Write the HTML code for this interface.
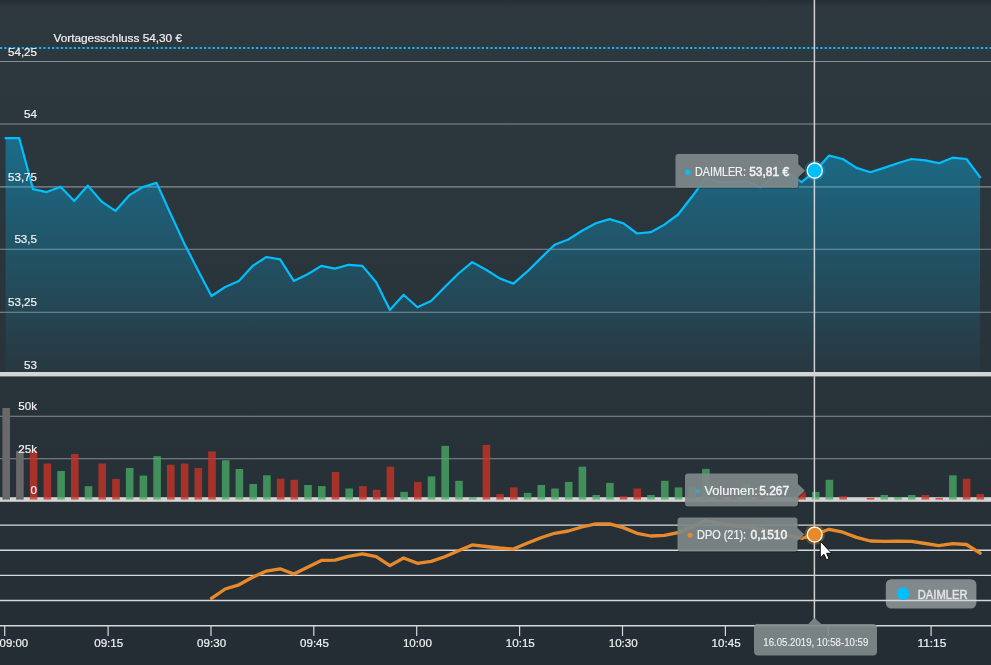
<!DOCTYPE html>
<html lang="de"><head><meta charset="utf-8"><title>DAIMLER Chart</title>
<style>
html,body{margin:0;padding:0;background:#252e35;overflow:hidden}
body{width:991px;height:665px}
svg{display:block;font-family:"Liberation Sans", "DejaVu Sans", sans-serif}
text{fill:#f2f2f2;stroke:#f2f2f2;stroke-width:0.2px}
.sb{font-weight:normal;stroke:#f2f2f2;stroke-width:0.5px}
</style></head><body>
<svg width="991" height="665" viewBox="0 0 991 665">
<defs>
<linearGradient id="bg" x1="0" y1="0" x2="0" y2="1">
<stop offset="0" stop-color="#2e393f"/><stop offset="0.55" stop-color="#29333a"/><stop offset="1" stop-color="#242d34"/>
</linearGradient>
<linearGradient id="top" x1="0" y1="0" x2="0" y2="1">
<stop offset="0" stop-color="#1c2226" stop-opacity="0.5"/><stop offset="1" stop-color="#1c2226" stop-opacity="0"/>
</linearGradient>
<linearGradient id="area" gradientUnits="userSpaceOnUse" x1="0" y1="140" x2="0" y2="374">
<stop offset="0" stop-color="#00bfff" stop-opacity="0.39"/><stop offset="1" stop-color="#00bfff" stop-opacity="0.03"/>
</linearGradient>
</defs>
<rect width="991" height="665" fill="url(#bg)"/>
<rect width="991" height="7" fill="url(#top)"/>

<g stroke="#868d93" stroke-width="1.15">
<line x1="0" x2="991" y1="61.5" y2="61.5"/>
<line x1="0" x2="991" y1="124.0" y2="124.0"/>
<line x1="0" x2="991" y1="186.9" y2="186.9"/>
<line x1="0" x2="991" y1="249.2" y2="249.2"/>
<line x1="0" x2="991" y1="312.2" y2="312.2"/>
<line x1="0" x2="991" y1="416.2" y2="416.2"/>
<line x1="0" x2="991" y1="458.7" y2="458.7"/>
</g>
<path d="M5.6,374 L5.6,138.2 L19.3,138.2 L33.0,189.1 L46.8,192.1 L60.5,186.7 L74.2,201.1 L87.9,185.6 L101.7,201.7 L115.4,210.9 L129.1,195.4 L142.8,187.0 L156.6,182.9 L170.3,213.2 L184.0,242.9 L197.8,269.9 L211.5,296.0 L225.2,287.0 L238.9,281.0 L252.6,265.9 L266.4,257.0 L280.1,259.3 L293.8,280.9 L307.6,274.3 L321.3,265.9 L335.0,268.6 L348.7,264.8 L362.4,265.9 L376.2,282.2 L389.9,310.0 L403.6,294.8 L417.4,307.3 L431.1,301.0 L444.8,287.1 L458.5,273.5 L472.2,262.1 L486.0,269.7 L499.7,278.4 L513.4,283.6 L527.1,271.7 L540.9,258.1 L554.6,244.7 L568.3,239.5 L582.0,230.8 L595.8,223.2 L609.5,219.1 L623.2,223.2 L637.0,233.5 L650.7,232.2 L664.4,224.6 L678.1,214.5 L691.9,196.8 L705.6,178.2 L719.3,181.8 L733.0,182.3 L746.8,181.0 L760.5,187.5 L774.2,175.3 L787.9,173.2 L801.6,182.2 L815.4,170.8 L829.1,155.6 L842.8,159.0 L856.5,167.9 L870.3,172.2 L884.0,167.9 L897.7,163.2 L911.5,159.0 L925.2,160.3 L938.9,163.2 L952.6,157.7 L966.4,159.0 L980.1,177.2 L980.1,374 Z" fill="url(#area)"/>
<polyline points="5.6,138.2 19.3,138.2 33.0,189.1 46.8,192.1 60.5,186.7 74.2,201.1 87.9,185.6 101.7,201.7 115.4,210.9 129.1,195.4 142.8,187.0 156.6,182.9 170.3,213.2 184.0,242.9 197.8,269.9 211.5,296.0 225.2,287.0 238.9,281.0 252.6,265.9 266.4,257.0 280.1,259.3 293.8,280.9 307.6,274.3 321.3,265.9 335.0,268.6 348.7,264.8 362.4,265.9 376.2,282.2 389.9,310.0 403.6,294.8 417.4,307.3 431.1,301.0 444.8,287.1 458.5,273.5 472.2,262.1 486.0,269.7 499.7,278.4 513.4,283.6 527.1,271.7 540.9,258.1 554.6,244.7 568.3,239.5 582.0,230.8 595.8,223.2 609.5,219.1 623.2,223.2 637.0,233.5 650.7,232.2 664.4,224.6 678.1,214.5 691.9,196.8 705.6,178.2 719.3,181.8 733.0,182.3 746.8,181.0 760.5,187.5 774.2,175.3 787.9,173.2 801.6,182.2 815.4,170.8 829.1,155.6 842.8,159.0 856.5,167.9 870.3,172.2 884.0,167.9 897.7,163.2 911.5,159.0 925.2,160.3 938.9,163.2 952.6,157.7 966.4,159.0 980.1,177.2" fill="none" stroke="#00bfff" stroke-width="2.2" stroke-linejoin="round" stroke-linecap="round"/>
<line x1="0" x2="991" y1="48" y2="48" stroke="#00bfff" stroke-width="2.2" stroke-dasharray="2.17 2.17"/>
<rect x="0" y="372" width="991" height="4.4" fill="#d4d4d4"/>
<rect x="0" y="497.2" width="991" height="4.6" fill="#d4d4d4"/>
<g>
<rect x="2.4" y="408.0" width="7.6" height="91.6" fill="#696969"/>
<rect x="16.1" y="450.9" width="7.6" height="48.7" fill="#696969"/>
<rect x="29.8" y="450.9" width="7.6" height="48.7" fill="#cc3325" fill-opacity="0.78"/>
<rect x="43.6" y="463.5" width="7.6" height="36.1" fill="#cc3325" fill-opacity="0.78"/>
<rect x="57.3" y="471.0" width="7.6" height="28.6" fill="#49ab65" fill-opacity="0.78"/>
<rect x="71.0" y="453.9" width="7.6" height="45.7" fill="#cc3325" fill-opacity="0.78"/>
<rect x="84.7" y="486.2" width="7.6" height="13.4" fill="#49ab65" fill-opacity="0.78"/>
<rect x="98.4" y="463.5" width="7.6" height="36.1" fill="#cc3325" fill-opacity="0.78"/>
<rect x="112.2" y="478.9" width="7.6" height="20.7" fill="#cc3325" fill-opacity="0.78"/>
<rect x="125.9" y="468.0" width="7.6" height="31.6" fill="#49ab65" fill-opacity="0.78"/>
<rect x="139.6" y="475.6" width="7.6" height="24.0" fill="#49ab65" fill-opacity="0.78"/>
<rect x="153.3" y="456.2" width="7.6" height="43.4" fill="#49ab65" fill-opacity="0.78"/>
<rect x="167.0" y="464.7" width="7.6" height="34.9" fill="#cc3325" fill-opacity="0.78"/>
<rect x="180.8" y="463.5" width="7.6" height="36.1" fill="#cc3325" fill-opacity="0.78"/>
<rect x="194.5" y="468.0" width="7.6" height="31.6" fill="#cc3325" fill-opacity="0.78"/>
<rect x="208.2" y="451.4" width="7.6" height="48.2" fill="#cc3325" fill-opacity="0.78"/>
<rect x="221.9" y="460.2" width="7.6" height="39.4" fill="#49ab65" fill-opacity="0.78"/>
<rect x="235.6" y="469.0" width="7.6" height="30.6" fill="#49ab65" fill-opacity="0.78"/>
<rect x="249.4" y="484.0" width="7.6" height="15.6" fill="#49ab65" fill-opacity="0.78"/>
<rect x="263.1" y="475.3" width="7.6" height="24.3" fill="#49ab65" fill-opacity="0.78"/>
<rect x="276.8" y="478.7" width="7.6" height="20.9" fill="#cc3325" fill-opacity="0.78"/>
<rect x="290.5" y="479.8" width="7.6" height="19.8" fill="#cc3325" fill-opacity="0.78"/>
<rect x="304.2" y="485.0" width="7.6" height="14.6" fill="#49ab65" fill-opacity="0.78"/>
<rect x="318.0" y="486.1" width="7.6" height="13.5" fill="#49ab65" fill-opacity="0.78"/>
<rect x="331.7" y="471.9" width="7.6" height="27.7" fill="#cc3325" fill-opacity="0.78"/>
<rect x="345.4" y="488.5" width="7.6" height="11.1" fill="#49ab65" fill-opacity="0.78"/>
<rect x="359.1" y="486.1" width="7.6" height="13.5" fill="#cc3325" fill-opacity="0.78"/>
<rect x="372.8" y="489.8" width="7.6" height="9.8" fill="#cc3325" fill-opacity="0.78"/>
<rect x="386.6" y="466.7" width="7.6" height="32.9" fill="#cc3325" fill-opacity="0.78"/>
<rect x="400.3" y="491.9" width="7.6" height="7.7" fill="#49ab65" fill-opacity="0.78"/>
<rect x="414.0" y="481.9" width="7.6" height="17.7" fill="#cc3325" fill-opacity="0.78"/>
<rect x="427.7" y="476.4" width="7.6" height="23.2" fill="#49ab65" fill-opacity="0.78"/>
<rect x="441.4" y="445.9" width="7.6" height="53.7" fill="#49ab65" fill-opacity="0.78"/>
<rect x="455.2" y="480.8" width="7.6" height="18.8" fill="#49ab65" fill-opacity="0.78"/>
<rect x="468.9" y="497.1" width="7.6" height="2.5" fill="#49ab65" fill-opacity="0.78"/>
<rect x="482.6" y="444.9" width="7.6" height="54.7" fill="#cc3325" fill-opacity="0.78"/>
<rect x="496.3" y="494.0" width="7.6" height="5.6" fill="#cc3325" fill-opacity="0.78"/>
<rect x="510.0" y="487.4" width="7.6" height="12.2" fill="#cc3325" fill-opacity="0.78"/>
<rect x="523.8" y="492.9" width="7.6" height="6.7" fill="#49ab65" fill-opacity="0.78"/>
<rect x="537.5" y="485.0" width="7.6" height="14.6" fill="#49ab65" fill-opacity="0.78"/>
<rect x="551.2" y="488.5" width="7.6" height="11.1" fill="#49ab65" fill-opacity="0.78"/>
<rect x="564.9" y="481.9" width="7.6" height="17.7" fill="#49ab65" fill-opacity="0.78"/>
<rect x="578.6" y="466.7" width="7.6" height="32.9" fill="#49ab65" fill-opacity="0.78"/>
<rect x="592.4" y="495.0" width="7.6" height="4.6" fill="#49ab65" fill-opacity="0.78"/>
<rect x="606.1" y="482.9" width="7.6" height="16.7" fill="#49ab65" fill-opacity="0.78"/>
<rect x="619.8" y="496.3" width="7.6" height="3.3" fill="#cc3325" fill-opacity="0.78"/>
<rect x="633.5" y="488.5" width="7.6" height="11.1" fill="#cc3325" fill-opacity="0.78"/>
<rect x="647.2" y="495.0" width="7.6" height="4.6" fill="#49ab65" fill-opacity="0.78"/>
<rect x="661.0" y="480.8" width="7.6" height="18.8" fill="#49ab65" fill-opacity="0.78"/>
<rect x="674.7" y="487.4" width="7.6" height="12.2" fill="#49ab65" fill-opacity="0.78"/>
<rect x="688.4" y="487.5" width="7.6" height="12.1" fill="#49ab65" fill-opacity="0.78"/>
<rect x="702.1" y="468.9" width="7.6" height="30.7" fill="#49ab65" fill-opacity="0.78"/>
<rect x="715.8" y="494.7" width="7.6" height="4.9" fill="#cc3325" fill-opacity="0.78"/>
<rect x="729.6" y="496.5" width="7.6" height="3.1" fill="#cc3325" fill-opacity="0.78"/>
<rect x="743.3" y="484.2" width="7.6" height="15.4" fill="#49ab65" fill-opacity="0.78"/>
<rect x="757.0" y="486.0" width="7.6" height="13.6" fill="#cc3325" fill-opacity="0.78"/>
<rect x="798.2" y="491.7" width="7.6" height="7.9" fill="#cc3325" fill-opacity="0.78"/>
<rect x="811.9" y="491.9" width="7.6" height="7.7" fill="#49ab65" fill-opacity="0.78"/>
<rect x="825.6" y="479.8" width="7.6" height="19.8" fill="#49ab65" fill-opacity="0.78"/>
<rect x="839.3" y="496.3" width="7.6" height="3.3" fill="#cc3325" fill-opacity="0.78"/>
<rect x="866.8" y="497.9" width="7.6" height="1.7" fill="#cc3325" fill-opacity="0.78"/>
<rect x="880.5" y="495.0" width="7.6" height="4.6" fill="#49ab65" fill-opacity="0.78"/>
<rect x="894.2" y="497.1" width="7.6" height="2.5" fill="#49ab65" fill-opacity="0.78"/>
<rect x="907.9" y="495.0" width="7.6" height="4.6" fill="#49ab65" fill-opacity="0.78"/>
<rect x="921.6" y="495.0" width="7.6" height="4.6" fill="#cc3325" fill-opacity="0.78"/>
<rect x="935.4" y="497.9" width="7.6" height="1.7" fill="#cc3325" fill-opacity="0.78"/>
<rect x="949.1" y="475.3" width="7.6" height="24.3" fill="#49ab65" fill-opacity="0.78"/>
<rect x="962.8" y="478.7" width="7.6" height="20.9" fill="#cc3325" fill-opacity="0.78"/>
<rect x="976.5" y="494.0" width="7.6" height="5.6" fill="#cc3325" fill-opacity="0.78"/>
</g>
<rect x="885.8" y="579.2" width="90.6" height="29.4" rx="5.5" fill="#9ca3a6" fill-opacity="0.78"/>
<g stroke="#d6d8da" stroke-width="1.35">
<line x1="0" x2="991" y1="525.1" y2="525.1"/>
<line x1="0" x2="991" y1="550.2" y2="550.2"/>
<line x1="0" x2="991" y1="575.4" y2="575.4"/>
<line x1="0" x2="991" y1="600.5" y2="600.5"/>
<line x1="0" x2="991" y1="625.7" y2="625.7"/>
<line x1="4.7" x2="4.7" y1="625.4" y2="636" stroke-width="1.2"/>
<line x1="108.1" x2="108.1" y1="625.4" y2="636" stroke-width="1.2"/>
<line x1="211.0" x2="211.0" y1="625.4" y2="636" stroke-width="1.2"/>
<line x1="313.8" x2="313.8" y1="625.4" y2="636" stroke-width="1.2"/>
<line x1="416.7" x2="416.7" y1="625.4" y2="636" stroke-width="1.2"/>
<line x1="519.6" x2="519.6" y1="625.4" y2="636" stroke-width="1.2"/>
<line x1="622.5" x2="622.5" y1="625.4" y2="636" stroke-width="1.2"/>
<line x1="725.4" x2="725.4" y1="625.4" y2="636" stroke-width="1.2"/>
<line x1="828.2" x2="828.2" y1="625.4" y2="636" stroke-width="1.2"/>
<line x1="931.1" x2="931.1" y1="625.4" y2="636" stroke-width="1.2"/>
</g>
<polyline points="211.5,598.4 225.2,589.0 238.9,584.8 252.6,577.2 266.4,571.1 280.1,568.8 293.8,574.0 307.6,567.2 321.3,560.4 335.0,560.1 348.7,556.4 362.4,553.8 376.2,556.7 389.9,565.6 403.6,558.0 417.4,563.3 431.1,561.4 444.8,556.7 458.5,550.7 472.2,544.9 486.0,546.5 499.7,548.0 513.4,549.1 527.1,543.3 540.9,537.8 554.6,533.3 568.3,531.0 582.0,527.0 595.8,523.9 609.5,523.9 623.2,527.6 637.0,533.3 650.7,536.0 664.4,535.4 678.1,532.6 691.9,527.0 705.6,520.7 719.3,523.5 733.0,525.5 746.8,527.0 760.5,529.0 774.2,532.0 787.9,535.5 801.6,538.4 815.4,534.2 829.1,529.3 842.8,532.2 856.5,537.4 870.3,541.0 884.0,541.4 897.7,541.2 911.5,541.4 925.2,543.5 938.9,545.7 952.6,543.7 966.4,544.5 980.1,553.2" fill="none" stroke="#e8892b" stroke-width="3.3" stroke-linejoin="round" stroke-linecap="round"/>
<g font-size="11.6px">
<text x="37" y="56" text-anchor="end">54,25</text>
<text x="37" y="118" text-anchor="end">54</text>
<text x="37" y="181" text-anchor="end">53,75</text>
<text x="37" y="243" text-anchor="end">53,5</text>
<text x="37" y="306" text-anchor="end">53,25</text>
<text x="37" y="369" text-anchor="end">53</text>
<text x="37" y="410" text-anchor="end">50k</text>
<text x="37" y="453" text-anchor="end">25k</text>
<text x="37" y="494" text-anchor="end">0</text>
<text x="53.5" y="42" textLength="128.5" lengthAdjust="spacingAndGlyphs">Vortagesschluss 54,30 €</text>
<text x="-0.4" y="647" textLength="28.5" lengthAdjust="spacingAndGlyphs">09:00</text>
<text x="108.7" y="647" text-anchor="middle" textLength="29" lengthAdjust="spacingAndGlyphs">09:15</text>
<text x="211.6" y="647" text-anchor="middle" textLength="29" lengthAdjust="spacingAndGlyphs">09:30</text>
<text x="314.5" y="647" text-anchor="middle" textLength="29" lengthAdjust="spacingAndGlyphs">09:45</text>
<text x="417.4" y="647" text-anchor="middle" textLength="29" lengthAdjust="spacingAndGlyphs">10:00</text>
<text x="520.3" y="647" text-anchor="middle" textLength="29" lengthAdjust="spacingAndGlyphs">10:15</text>
<text x="623.2" y="647" text-anchor="middle" textLength="29" lengthAdjust="spacingAndGlyphs">10:30</text>
<text x="726.1" y="647" text-anchor="middle" textLength="29" lengthAdjust="spacingAndGlyphs">10:45</text>
<text x="931.9" y="647" text-anchor="middle" textLength="29" lengthAdjust="spacingAndGlyphs">11:15</text>
</g>
<line x1="814.4" x2="814.4" y1="0" y2="620" stroke="#cfd2d4" stroke-width="1.5"/>
<circle cx="814.7" cy="170.6" r="10.4" fill="#00bfff" opacity="0.28"/>
<circle cx="814.7" cy="170.6" r="7.6" fill="#00bfff" stroke="#ffffff" stroke-width="1.3"/>
<circle cx="814.7" cy="534.6" r="10.4" fill="#e8892b" opacity="0.3"/>
<circle cx="814.7" cy="534.6" r="7.5" fill="#e8892b" stroke="#ffffff" stroke-width="1.3"/>
<path transform="translate(1,1)" d="M678.5,154 H795.4 Q798.4,154 798.4,157 V164.3 L805.1999999999999,170.8 L798.4,177.3 V184.8 Q798.4,187.8 795.4,187.8 H678.5 Q675.5,187.8 675.5,184.8 V157 Q675.5,154 678.5,154 Z" fill="#000" fill-opacity="0.22"/><path d="M678.5,154 H795.4 Q798.4,154 798.4,157 V164.3 L805.1999999999999,170.8 L798.4,177.3 V184.8 Q798.4,187.8 795.4,187.8 H678.5 Q675.5,187.8 675.5,184.8 V157 Q675.5,154 678.5,154 Z" fill="#818b8c" fill-opacity="0.91"/>
<circle cx="687.8" cy="172.2" r="2.7" fill="#00bfff"/>
<text y="175.8" font-size="12px"><tspan x="695" textLength="50.9" lengthAdjust="spacingAndGlyphs">DAIMLER:</tspan><tspan x="749.2" textLength="39.9" lengthAdjust="spacingAndGlyphs" class="sb">53,81 €</tspan></text>
<path transform="translate(1,1)" d="M688,473.5 H795 Q798,473.5 798,476.5 V484.0 L804.8,490.5 L798,497.0 V503.5 Q798,506.5 795,506.5 H688 Q685,506.5 685,503.5 V476.5 Q685,473.5 688,473.5 Z" fill="#000" fill-opacity="0.22"/><path d="M688,473.5 H795 Q798,473.5 798,476.5 V484.0 L804.8,490.5 L798,497.0 V503.5 Q798,506.5 795,506.5 H688 Q685,506.5 685,503.5 V476.5 Q685,473.5 688,473.5 Z" fill="#818b8c" fill-opacity="0.91"/>
<circle cx="697.8" cy="491.2" r="2.5" fill="#4c9cba"/>
<text y="495" font-size="12px"><tspan x="704.4" textLength="53.5" lengthAdjust="spacingAndGlyphs">Volumen:</tspan><tspan x="759.2" textLength="29.9" lengthAdjust="spacingAndGlyphs" class="sb">5.267</tspan></text>
<path transform="translate(1,1)" d="M680.5,517.5 H794.5 Q797.5,517.5 797.5,520.5 V528.0 L804.3,534.5 L797.5,541.0 V548.5 Q797.5,551.5 794.5,551.5 H680.5 Q677.5,551.5 677.5,548.5 V520.5 Q677.5,517.5 680.5,517.5 Z" fill="#000" fill-opacity="0.22"/><path d="M680.5,517.5 H794.5 Q797.5,517.5 797.5,520.5 V528.0 L804.3,534.5 L797.5,541.0 V548.5 Q797.5,551.5 794.5,551.5 H680.5 Q677.5,551.5 677.5,548.5 V520.5 Q677.5,517.5 680.5,517.5 Z" fill="#818b8c" fill-opacity="0.91"/>
<circle cx="690" cy="535.2" r="2.5" fill="#e8892b"/>
<text y="539" font-size="12px"><tspan x="697.1" textLength="49" lengthAdjust="spacingAndGlyphs">DPO (21):</tspan><tspan x="750.5" textLength="36.6" lengthAdjust="spacingAndGlyphs" class="sb">0,1510</tspan></text>
<circle cx="903" cy="593.6" r="6.3" fill="#00bfff"/>
<text x="917.8" y="598.7" font-size="12px" class="sb" style="fill:#e2e2e2;stroke:#e2e2e2" textLength="49.7" lengthAdjust="spacingAndGlyphs">DAIMLER</text>
<path d="M758,623.9 H808.3 L814.4,617.8 L821.2,623.9 H873 Q877,623.9 877,627.9 V651.6 Q877,655.6 873,655.6 H758 Q754,655.6 754,651.6 V627.7 Q754,623.7 758,623.7 Z" fill="#818b8c" fill-opacity="0.91"/>
<text x="763.3" y="645.5" font-size="10px" style="stroke:#efefef;stroke-width:0.12px;fill:#efefef" textLength="105" lengthAdjust="spacingAndGlyphs">16.05.2019, 10:58-10:59</text>
<path d="M820.3,541.2 V557.8 L824,554.4 L826.5,559.8 L829,558.7 L826.6,553.3 H831.6 Z" fill="#ffffff" stroke="#000000" stroke-width="0.9" stroke-linejoin="round"/>
</svg></body></html>
